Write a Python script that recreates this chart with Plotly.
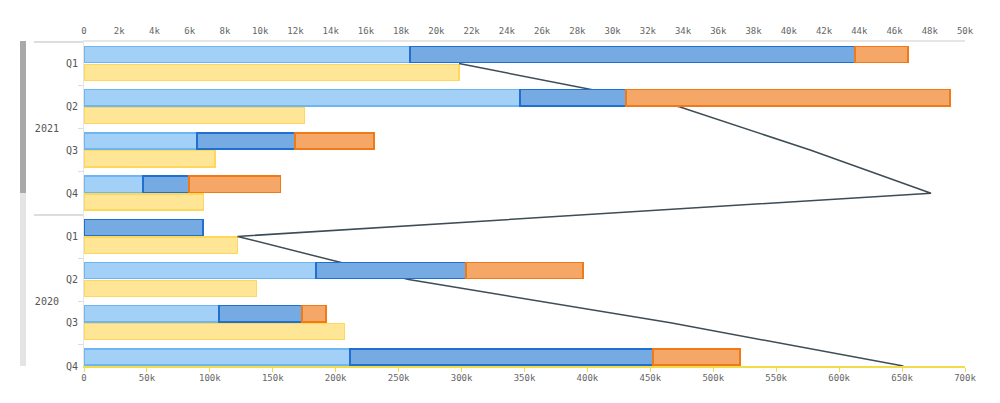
import plotly.graph_objects as go

years = ["2021", "2021", "2021", "2021", "2020", "2020", "2020", "2020"]
quarters = ["Q1", "Q2", "Q3", "Q4", "Q1", "Q2", "Q3", "Q4"]

# top axis series (units)
seg_a = [18500, 24750, 6410, 3350, None, 13170, 7660, 15100]
seg_b = [25260, 6000, 5560, 2600, 6750, 8500, 4700, 17200]
seg_c = [3000, 18400, 4480, 5200, None, 6640, 1360, 4940]
# bottom axis series
yellow_vals = [298000, 175000, 104000, 95000, 122000, 137000, 207000, 185000]
line_vals = [298000, 473000, 577000, 673000, 122000, 258000, 466000, 651000]

top_ticks = list(range(0, 50001, 2000))
bottom_ticks = list(range(0, 700001, 50000))

ycat = [years, quarters]

fig = go.Figure()

def stack_bar(vals, fill, edge):
    fig.add_trace(go.Bar(
        y=ycat, x=vals, orientation="h", xaxis="x2", yaxis="y",
        offset=-0.395, width=0.375,
        marker=dict(color=fill, line=dict(color=edge, width=1.5)),
        showlegend=False, hoverinfo="x"))

stack_bar(seg_a, "#a2d0f7", "#6db6f2")
stack_bar(seg_b, "#76aae2", "#1f70cf")
stack_bar(seg_c, "#f5a767", "#f07a18")

fig.add_trace(go.Bar(
    y=ycat, x=yellow_vals, orientation="h", xaxis="x", yaxis="y",
    offset=0.015, width=0.375,
    marker=dict(color="#ffe596", line=dict(color="#ffd75a", width=1.5)),
    showlegend=False, hoverinfo="x"))

fig.add_trace(go.Scatter(
    y=ycat, x=line_vals, mode="lines", xaxis="x", yaxis="y",
    line=dict(color="#3d4c56", width=1.5), showlegend=False))

# page is offset by the 8px body margin; figure coords = page coords - 8
PL, PT, PW, PH = 76, 34, 881, 324

def px(xpage):
    return (xpage - 8 - PL) / PW

def py(ypage):
    return (PT + PH - (ypage - 8)) / PH

shapes = [
    dict(type="rect", xref="paper", yref="paper", x0=px(20), x1=px(26),
         y0=py(366), y1=py(193), fillcolor="#e4e4e4", line=dict(width=0), layer="below"),
    dict(type="rect", xref="paper", yref="paper", x0=px(20), x1=px(26),
         y0=py(193), y1=py(41), fillcolor="#a9a9a9", line=dict(width=0), layer="below"),
]
# faint ticks of neighbouring element at right edge
for yy in [63, 97, 148, 200, 250, 302, 352]:
    shapes.append(dict(type="line", xref="paper", yref="paper",
                       x0=px(995), x1=px(999), y0=py(yy), y1=py(yy),
                       line=dict(color="#d6d6d6", width=1)))
shapes.append(dict(type="line", xref="paper", yref="paper",
                   x0=px(999), x1=px(999), y0=py(63), y1=py(93),
                   line=dict(color="#e6e6e6", width=1)))

fig.update_layout(
    width=992, height=395,
    margin=dict(l=PL, r=992 - PL - PW, t=PT, b=395 - PT - PH),
    paper_bgcolor="white", plot_bgcolor="white",
    barmode="stack",
    font=dict(family="DejaVu Sans Mono", size=9, color="#666666"),
    shapes=shapes,
    xaxis=dict(
        range=[0, 700000], tickvals=bottom_ticks,
        ticktext=["0" if v == 0 else f"{v // 1000}k" for v in bottom_ticks],
        showgrid=False, zeroline=False, showline=True, linecolor="#f2dc4a",
        linewidth=1.5, ticks="outside", ticklen=4, tickcolor="#f2dc4a",
        tickfont=dict(size=9, color="#666666"), automargin=False,
        ticklabelstandoff=-2,
    ),
    xaxis2=dict(
        range=[0, 50000], tickvals=top_ticks,
        ticktext=["0" if v == 0 else f"{v // 1000}k" for v in top_ticks],
        overlaying="x", side="top", showgrid=False, zeroline=False,
        showline=True, linecolor="#e6e6e6", linewidth=1.5, ticks="",
        tickfont=dict(size=9, color="#666666"), automargin=False,
        ticklabelstandoff=3,
    ),
    yaxis=dict(
        type="multicategory", range=[7.0, -0.5],
        showgrid=False, zeroline=False, showline=True, linecolor="#e6e6e6",
        ticks="outside", ticklen=5, tickcolor="#dddddd",
        showdividers=True, dividercolor="#dddddd", dividerwidth=1.5,
        tickfont=dict(size=10, color="#555555"), automargin=False,
        ticklabelstandoff=3,
    ),
)

fig.write_html("out.html")
